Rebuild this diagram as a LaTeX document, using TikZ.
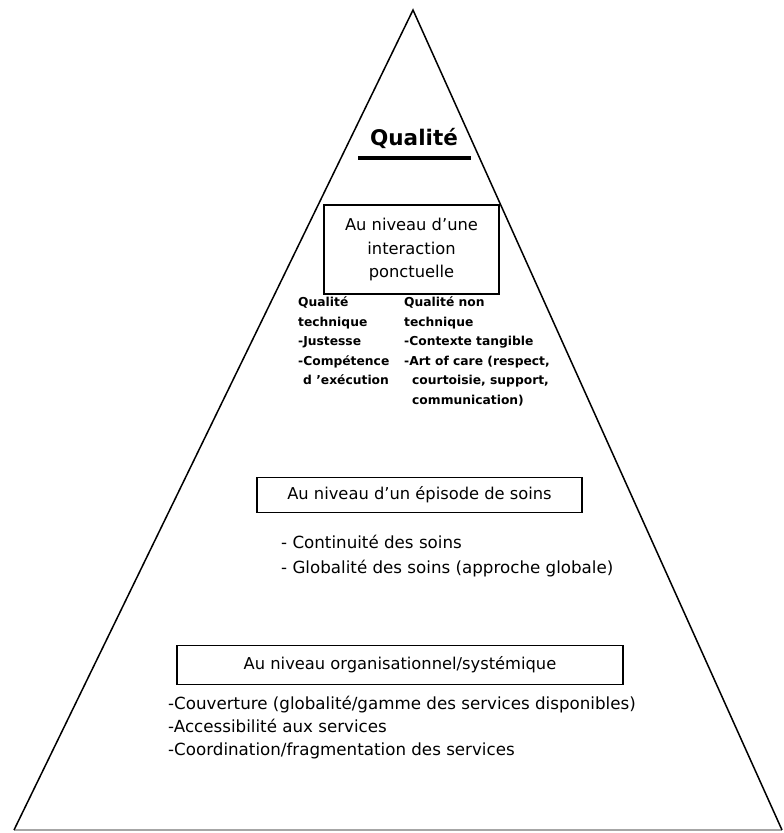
\documentclass[tikz,border=0pt]{standalone}
\usepackage{fontspec}
\setmainfont{DejaVu Sans}
\begin{document}
\begin{tikzpicture}[x=1pt,y=-1pt,
  lvlbox/.style={draw=black, line width=1.4pt, inner sep=0pt, align=center,
    font=\fontsize{16.3}{23.5}\selectfont},
  coltext/.style={inner sep=0pt, anchor=north west, align=left,
    font=\fontsize{12.3}{19.5}\selectfont\bfseries},
  listtext/.style={inner sep=0pt, anchor=north west, align=left,
    font=\fontsize{16.7}{24.5}\selectfont}]
\useasboundingbox (0,0) rectangle (784,833);
\fill[white] (0,0) rectangle (784,833);
% pyramid
\coordinate (apex) at (413,10);
\coordinate (bl) at (14,830);
\coordinate (br) at (782,830);
\draw[line width=1.8pt, black!35] (bl) -- (br);
\draw[line width=1.5pt, line join=miter] (bl) -- (apex) -- (br);
% title
\node[inner sep=0pt, font=\fontsize{21.5}{24}\selectfont\bfseries] (title) at (414,138) {Qualité};
\coordinate (ulA) at (358,158);
\coordinate (ulB) at (471,158);
\draw[line width=3.5pt] (ulA) -- (ulB);
% level 1
\node[lvlbox, minimum width=175pt, minimum height=89pt] (b1) at (411.5,249.5)
  {Au niveau d'une\\interaction\\ponctuelle};
\node[coltext] (tech) at (298,296.5)
  {Qualité\\technique\\-Justesse\\-Compétence\\\hspace*{5pt}d 'exécution};
\node[coltext] (nontech) at (404,296.5)
  {Qualité non\\technique\\-Contexte tangible\\-Art of care (respect,\\\hspace*{8pt}courtoisie, support,\\\hspace*{8pt}communication)};
% level 2
\node[lvlbox, minimum width=325pt, minimum height=35pt] (b2) at (419.5,495)
  {Au niveau d'un épisode de soins};
\node[listtext] (l2) at (281,535)
  {- Continuité des soins\\- Globalité des soins (approche globale)};
% level 3
\node[lvlbox, minimum width=446pt, minimum height=39pt] (b3) at (400,665)
  {Au niveau organisationnel/systémique};
\node[listtext, font=\fontsize{16.7}{23}\selectfont] (l3) at (168,696)
  {-Couverture (globalité/gamme des services disponibles)\\-Accessibilité aux services\\-Coordination/fragmentation des services};
\end{tikzpicture}
\end{document}
